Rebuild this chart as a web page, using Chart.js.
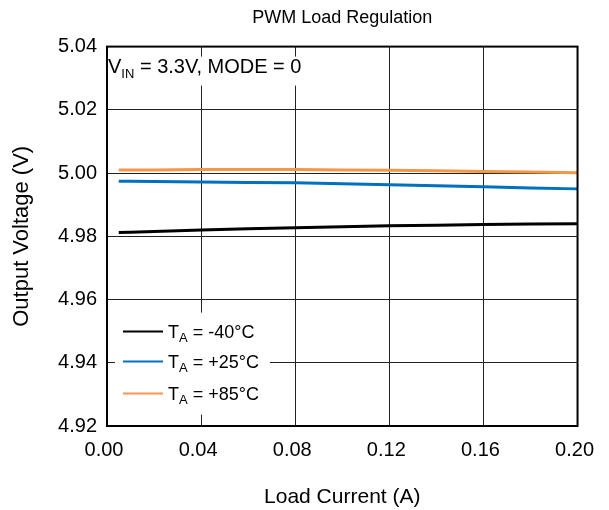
<!DOCTYPE html>
<html>
<head>
<meta charset="utf-8">
<script src="https://cdn.jsdelivr.net/npm/chart.js@4/dist/chart.umd.min.js"></script>
<style>
  html, body { margin: 0; padding: 0; background: #fff; }
</style>
</head>
<body>
<canvas id="grafica" width="609" height="510"></canvas>
<script>
// ==========================================
// 1. DATOS
// ==========================================
const cargaA   = [0.005, 0.01, 0.02, 0.04, 0.06, 0.08, 0.10, 0.12, 0.14, 0.16, 0.18, 0.20];
const vMenos40 = [4.9812, 4.9813, 4.9815, 4.9820, 4.9824, 4.9827, 4.9830, 4.9833, 4.9835, 4.9837, 4.9839, 4.9840];
const vMas25   = [4.9974, 4.9974, 4.9973, 4.9972, 4.9970, 4.9969, 4.9966, 4.9963, 4.9960, 4.9957, 4.9953, 4.9950];
const vMas85   = [5.0010, 5.0010, 5.0010, 5.0011, 5.0011, 5.0011, 5.0010, 5.0009, 5.0007, 5.0005, 5.0003, 5.0001];
const nombres  = ["-40°C", "+25°C", "+85°C"];
const ticksX   = [0.00, 0.04, 0.08, 0.12, 0.16, 0.20];
const ticksY   = [4.92, 4.94, 4.96, 4.98, 5.00, 5.02, 5.04];

const colores = ['#000000', '#0070C0', '#F79646'];
const fuente = '"Liberation Sans", Arial, sans-serif';

function puntos(ys) {
    return cargaA.map((x, i) => ({ x: x, y: ys[i] }));
}

// texto con subíndice: partes = [[texto, tamaño, desplazamientoY]]
function textoSub(ctx, x, y, partes) {
    partes.forEach(p => {
        ctx.font = p[1] + 'px ' + fuente;
        ctx.fillText(p[0], x, y + p[2]);
        x += ctx.measureText(p[0]).width;
    });
    return x;
}

// ==========================================
// 2. ANOTACIÓN, LEYENDA Y MARCO
// ==========================================
const extras = {
    id: 'extras',
    afterDatasetsDraw(chart) {
        const { ctx, chartArea: a } = chart;
        ctx.save();
        ctx.textBaseline = 'alphabetic';
        ctx.textAlign = 'left';

        // caja de la anotación
        ctx.fillStyle = '#fff';
        ctx.fillRect(a.left + 1, a.top + 10, 190, 29);
        ctx.fillStyle = '#000';
        textoSub(ctx, a.left + 1, a.top + 26.5, [['V', 20, 0], ['IN', 13, 4.5], [' = 3.3V, MODE = 0', 20, 0]]);

        // leyenda
        ctx.fillStyle = '#fff';
        ctx.fillRect(a.left + 8, a.top + 266, 155, 102);
        const filas = [285, 315, 347];
        filas.forEach((dy, i) => {
            const y = a.top + dy;
            ctx.strokeStyle = colores[i];
            ctx.lineWidth = 2;
            ctx.beginPath();
            ctx.moveTo(a.left + 16, y);
            ctx.lineTo(a.left + 56, y);
            ctx.stroke();
            ctx.fillStyle = '#000';
            textoSub(ctx, a.left + 61, y + 6, [['T', 18, 0], ['A', 13, 4], [' = ' + nombres[i], 18, 0]]);
        });

        // marco
        ctx.strokeStyle = '#000';
        ctx.lineWidth = 2;
        ctx.strokeRect(a.left, a.top, a.right - a.left, a.bottom - a.top);
        ctx.restore();
    }
};

// ==========================================
// 3. GRÁFICA
// ==========================================
const ctx = document.getElementById('grafica').getContext('2d');
const miGrafica = new Chart(ctx, {
    type: 'line',
    data: {
        datasets: [vMenos40, vMas25, vMas85].map((serie, i) => ({
            label: 'TA = ' + nombres[i],
            data: puntos(serie),
            borderColor: colores[i],
            backgroundColor: colores[i],
            borderWidth: 3,
            pointRadius: 0,
            tension: 0,
            fill: false
        }))
    },
    options: {
        responsive: false,
        animation: false,
        layout: { padding: { left: 4, right: 30, top: 4, bottom: 0 } },
        plugins: {
            legend: { display: false },
            tooltip: { enabled: false },
            title: {
                display: true,
                text: 'PWM Load Regulation',
                fullSize: false,
                color: '#000',
                font: { family: fuente, size: 18, weight: 'normal' },
                padding: { top: 3, bottom: 18 }
            }
        },
        scales: {
            x: {
                type: 'linear',
                min: 0,
                max: 0.2,
                afterBuildTicks: s => { s.ticks = ticksX.map(v => ({ value: v })); },
                afterFit: s => { s.height = 84; },
                grid: { color: '#222', lineWidth: 1, drawTicks: false },
                border: { display: false },
                ticks: {
                    color: '#000',
                    padding: 12,
                    labelOffset: -3,
                    font: { family: fuente, size: 20 },
                    callback: v => v.toFixed(2)
                },
                title: {
                    display: true,
                    text: 'Load Current (A)',
                    color: '#000',
                    font: { family: fuente, size: 21 },
                    padding: { top: 0, bottom: 0 }
                }
            },
            y: {
                min: 4.92,
                max: 5.04,
                afterBuildTicks: s => { s.ticks = ticksY.map(v => ({ value: v })); },
                afterFit: s => { s.width = 103; },
                grid: { color: '#222', lineWidth: 1, drawTicks: false },
                border: { display: false },
                ticks: {
                    color: '#000',
                    padding: 10,
                    font: { family: fuente, size: 20 },
                    callback: v => v.toFixed(2)
                },
                title: {
                    display: true,
                    text: 'Output Voltage (V)',
                    color: '#000',
                    font: { family: fuente, size: 22 },
                    padding: { top: 5, bottom: 0 }
                }
            }
        }
    },
    plugins: [extras]
});
</script>
</body>
</html>
